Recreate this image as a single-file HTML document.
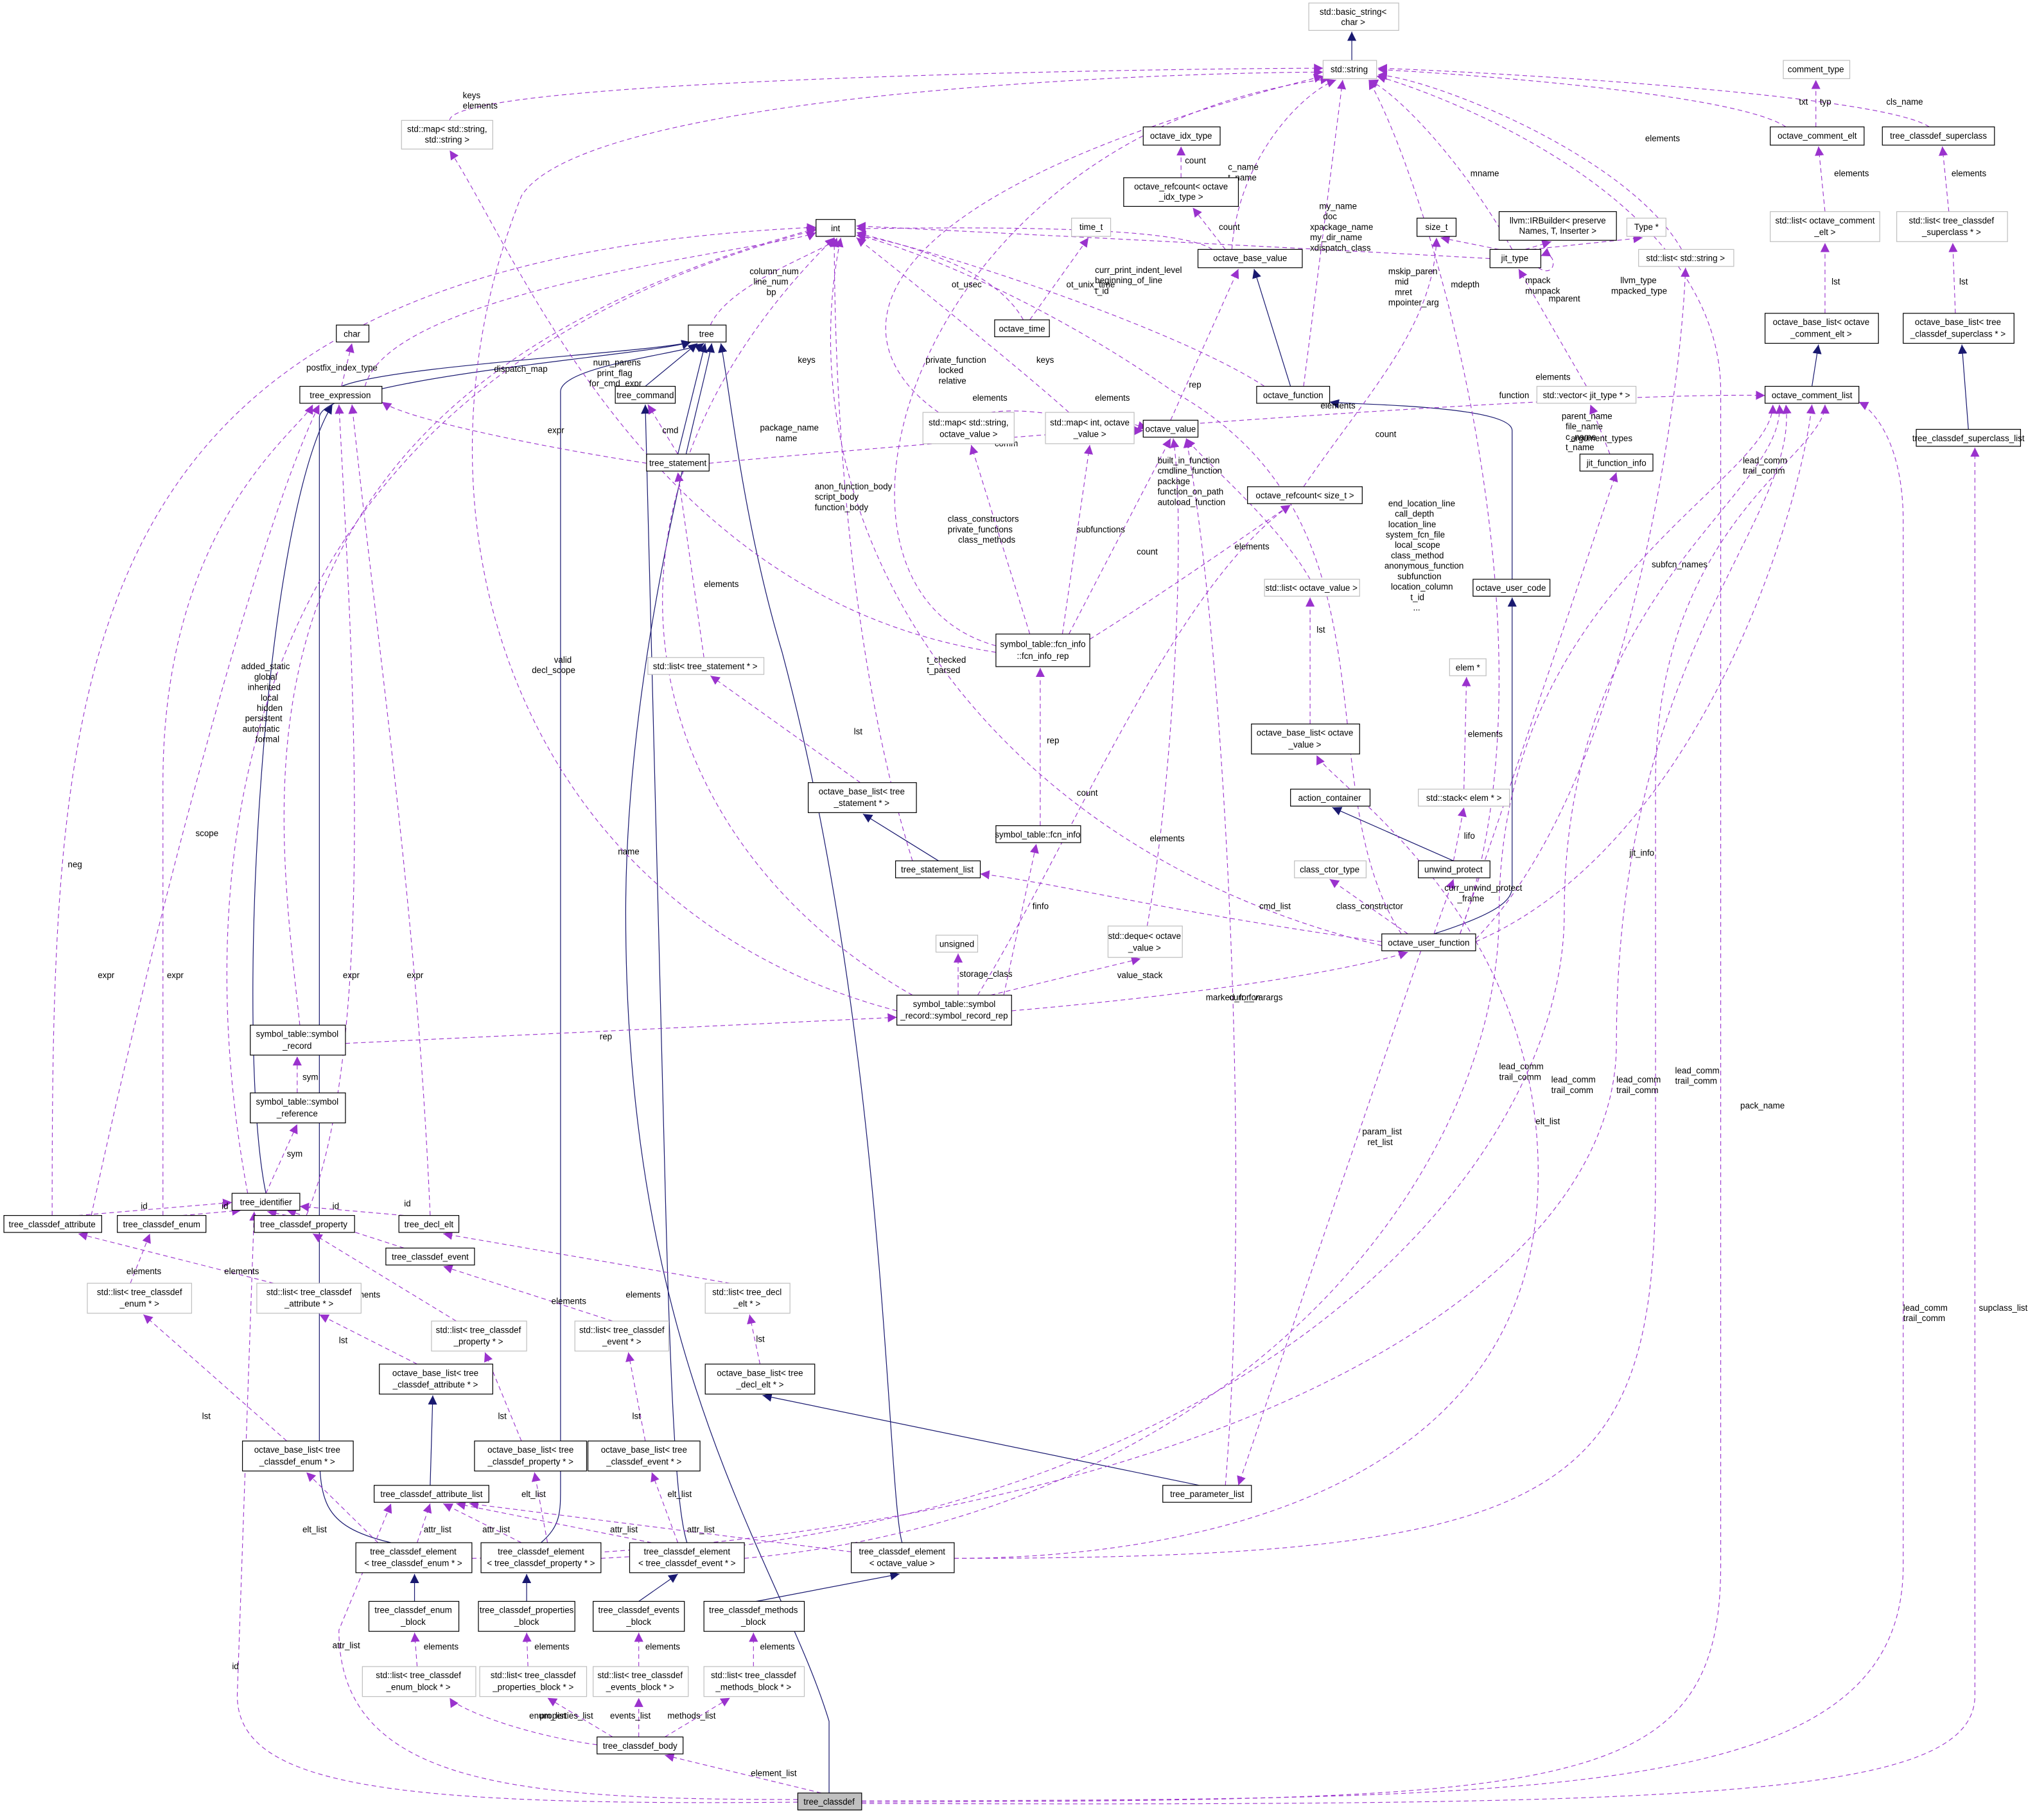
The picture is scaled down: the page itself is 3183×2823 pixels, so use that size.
<!DOCTYPE html>
<html><head><meta charset="utf-8"><style>
html,body{margin:0;padding:0;background:#fff}
svg{display:block}
text{font-family:"Liberation Sans",sans-serif;font-size:6.6px;fill:#000}
.n{fill:#fff;stroke:#000;stroke-width:0.6}
.g{fill:#fff;stroke:#bfbfbf;stroke-width:0.6}
.d{fill:none;stroke:#9a32cd;stroke-width:0.55;stroke-dasharray:3.5,2.5}
.s{fill:none;stroke:#191970;stroke-width:0.6}
.nt{text-anchor:middle}
</style></head><body>
<svg width="3183" height="2823" viewBox="0 0 1568 1390" xmlns="http://www.w3.org/2000/svg">
<defs>
<marker id="p" viewBox="0 0 10 10" refX="10" refY="5" markerWidth="7" markerHeight="7" markerUnits="userSpaceOnUse" orient="auto"><path d="M0,0 L10,5 L0,10z" fill="#9a32cd"/></marker>
<marker id="b" viewBox="0 0 10 10" refX="10" refY="5" markerWidth="7" markerHeight="7" markerUnits="userSpaceOnUse" orient="auto"><path d="M0,0 L10,5 L0,10z" fill="#191970"/></marker>
</defs>

<!-- solid inheritance edges -->
<g marker-end="url(#b)">
<path class="s" d="M1037,46 L1037,24"/>
<path class="s" d="M262,296 C300,280 500,270 530,262"/>
<path class="s" d="M495,296 L535,263"/>
<path class="s" d="M520,348 L541,263"/>
<path class="s" d="M204,915 C180,800 200,400 255,310"/>
<path class="s" d="M300,1183 C245,1170 245,1150 245,1100 L245,320 C245,290 500,272 530,262"/>
<path class="s" d="M415,1183 C430,1170 430,1160 430,1140 L430,300 C430,280 530,270 540,263"/>
<path class="s" d="M527,1183 C520,1160 515,1100 510,900 L495,310"/>
<path class="s" d="M692,1183 C680,1140 680,800 600,500 C570,400 560,300 553,263"/>
<path class="s" d="M636,1375 L636,1320 C600,1200 480,1050 480,700 C480,500 540,300 546,263"/>
<path class="s" d="M990,296 L962,206"/>
<path class="s" d="M1160,444 L1160,330 C1160,310 1030,310 1020,308"/>
<path class="s" d="M1100,716 C1150,700 1160,690 1160,680 L1160,458"/>
<path class="s" d="M1390,296 L1395,264"/>
<path class="s" d="M1510,329 L1505,264"/>
<path class="s" d="M720,660 L662,624"/>
<path class="s" d="M1115,660 L1022,619"/>
<path class="s" d="M920,1139 L585,1070"/>
<path class="s" d="M330,1139 L332,1070"/>
<path class="s" d="M318,1228 L318,1207"/>
<path class="s" d="M404,1228 L404,1207"/>
<path class="s" d="M490,1228 L520,1207"/>
<path class="s" d="M580,1228 L690,1207"/>
</g>

<!-- dashed edges -->
<g marker-end="url(#p)">
<path class="d" d="M1393,97 L1393,61"/>
<path class="d" d="M1370,97 C1330,70 1100,55 1057,53"/>
<path class="d" d="M1480,97 C1440,70 1100,53 1057,52"/>
<path class="d" d="M1400,162 L1395,112"/>
<path class="d" d="M1495,162 L1490,112"/>
<path class="d" d="M1400,240 L1400,186"/>
<path class="d" d="M1500,240 L1498,186"/>
<path class="d" d="M345,92 C345,60 900,52 1015,52"/>
<path class="d" d="M906,136 L906,112"/>
<path class="d" d="M940,191 L915,159"/>
<path class="d" d="M945,191 C950,120 1000,70 1025,61"/>
<path class="d" d="M785,245 C760,200 680,185 657,178"/>
<path class="d" d="M790,245 L835,182"/>
<path class="d" d="M545,249 C560,215 640,190 642,182"/>
<path class="d" d="M280,296 C300,220 600,190 626,178"/>
<path class="d" d="M262,296 L270,263"/>
<path class="d" d="M930,191 C900,170 700,175 657,175"/>
<path class="d" d="M970,296 C900,250 700,185 657,180"/>
<path class="d" d="M1150,191 L1105,182"/>
<path class="d" d="M1170,191 L1190,185"/>
<path class="d" d="M1175,191 L1260,182"/>
<path class="d" d="M1180,205 C1195,215 1195,190 1182,196"/>
<path class="d" d="M1160,191 C1120,120 1070,70 1050,61"/>
<path class="d" d="M1000,296 L1030,61"/>
<path class="d" d="M1290,191 C1250,120 1100,60 1057,57"/>
<path class="d" d="M1143,198 C1000,190 700,175 657,173"/>
<path class="d" d="M1217,296 L1165,206"/>
<path class="d" d="M1235,348 L1220,310"/>
<path class="d" d="M898,322 L950,206"/>
<path class="d" d="M760,316 C800,310 860,330 877,330"/>
<path class="d" d="M836,316 L880,328"/>
<path class="d" d="M820,316 C780,280 680,200 657,182"/>
<path class="d" d="M720,316 C640,260 650,150 1015,58"/>
<path class="d" d="M496,355 C400,340 310,320 293,308"/>
<path class="d" d="M520,348 L497,310"/>
<path class="d" d="M544,355 C700,340 1200,300 1354,303"/>
<path class="d" d="M790,486 L745,341"/>
<path class="d" d="M815,486 L836,341"/>
<path class="d" d="M820,486 L898,336"/>
<path class="d" d="M764,495 C600,450 700,100 1020,60"/>
<path class="d" d="M764,500 C500,460 400,200 345,115"/>
<path class="d" d="M836,490 C900,450 970,400 990,387"/>
<path class="d" d="M798,633 L798,512"/>
<path class="d" d="M540,504 L520,362"/>
<path class="d" d="M660,600 L545,518"/>
<path class="d" d="M700,660 C650,500 640,300 640,182"/>
<path class="d" d="M1005,444 C980,400 920,350 910,336"/>
<path class="d" d="M1005,555 L1005,458"/>
<path class="d" d="M1123,605 L1125,519"/>
<path class="d" d="M1115,660 L1123,619"/>
<path class="d" d="M1060,722 C900,700 800,675 752,670"/>
<path class="d" d="M1080,716 L1020,674"/>
<path class="d" d="M1100,716 L1115,674"/>
<path class="d" d="M1120,716 L1240,362"/>
<path class="d" d="M1132,720 C1250,600 1290,300 1293,205"/>
<path class="d" d="M1132,722 C1300,650 1380,400 1390,310"/>
<path class="d" d="M1120,716 C1200,500 1100,150 1050,61"/>
<path class="d" d="M1075,716 C1000,600 1080,400 900,300 C800,230 700,190 657,180"/>
<path class="d" d="M1090,729 L950,1139"/>
<path class="d" d="M1060,725 C750,650 600,400 645,182"/>
<path class="d" d="M1000,373 C1050,300 1100,250 1102,182"/>
<path class="d" d="M735,763 L735,731"/>
<path class="d" d="M760,763 L875,735"/>
<path class="d" d="M770,763 L795,647"/>
<path class="d" d="M776,775 C950,760 1050,740 1080,730"/>
<path class="d" d="M750,763 C820,650 900,450 990,387"/>
<path class="d" d="M688,775 C400,700 300,400 400,150 C450,70 900,55 1015,55"/>
<path class="d" d="M700,763 C500,650 420,400 640,182"/>
<path class="d" d="M880,710 C900,600 910,400 900,336"/>
<path class="d" d="M940,1139 C960,900 940,500 910,336"/>
<path class="d" d="M265,800 L688,780"/>
<path class="d" d="M230,786 C210,600 160,300 626,175"/>
<path class="d" d="M228,838 L228,810"/>
<path class="d" d="M204,915 L228,862"/>
<path class="d" d="M190,915 C150,700 150,300 626,176"/>
<path class="d" d="M40,932 C40,500 50,200 626,174"/>
<path class="d" d="M60,932 L178,922"/>
<path class="d" d="M70,932 C120,700 200,400 245,310"/>
<path class="d" d="M140,932 L185,928"/>
<path class="d" d="M125,932 L125,600 C125,400 230,330 240,310"/>
<path class="d" d="M220,932 L205,929"/>
<path class="d" d="M235,932 C290,800 270,500 260,310"/>
<path class="d" d="M310,932 L230,925"/>
<path class="d" d="M330,932 C320,700 290,500 270,310"/>
<path class="d" d="M310,957 L220,928"/>
<path class="d" d="M100,984 L115,946"/>
<path class="d" d="M210,984 L60,946"/>
<path class="d" d="M350,1013 L240,946"/>
<path class="d" d="M560,984 L340,946"/>
<path class="d" d="M470,1013 L340,971"/>
<path class="d" d="M320,1046 L245,1008"/>
<path class="d" d="M583,1046 L575,1008"/>
<path class="d" d="M220,1105 L110,1008"/>
<path class="d" d="M400,1105 L372,1037"/>
<path class="d" d="M495,1105 L482,1037"/>
<path class="d" d="M290,1183 L235,1129"/>
<path class="d" d="M320,1183 L330,1153"/>
<path class="d" d="M420,1183 L410,1129"/>
<path class="d" d="M400,1183 L340,1153"/>
<path class="d" d="M520,1183 L500,1129"/>
<path class="d" d="M500,1183 L350,1153"/>
<path class="d" d="M653,1190 L360,1153"/>
<path class="d" d="M732,1195 C900,1195 1180,1150 1180,900 C1180,700 1020,600 1010,579"/>
<path class="d" d="M732,1195 C1200,1195 1270,1150 1270,900 L1270,600 C1270,400 1400,350 1400,310"/>
<path class="d" d="M362,1195 C900,1180 1240,1000 1240,800 C1240,500 1380,400 1370,310"/>
<path class="d" d="M461,1195 C950,1170 1200,900 1200,700 C1200,450 1370,380 1365,310"/>
<path class="d" d="M571,1195 C950,1160 1150,900 1150,700 C1150,450 1360,370 1360,310"/>
<path class="d" d="M320,1278 L318,1252"/>
<path class="d" d="M405,1278 L404,1252"/>
<path class="d" d="M490,1278 L490,1252"/>
<path class="d" d="M578,1278 L578,1252"/>
<path class="d" d="M458,1338 C400,1330 350,1310 345,1302"/>
<path class="d" d="M470,1332 L420,1302"/>
<path class="d" d="M490,1332 L490,1302"/>
<path class="d" d="M510,1332 L560,1302"/>
<path class="d" d="M630,1375 L510,1346"/>
<path class="d" d="M612,1382 C300,1385 182,1370 182,1300 L195,929"/>
<path class="d" d="M612,1380 C400,1380 260,1370 260,1250 L300,1153"/>
<path class="d" d="M661,1381 C1200,1380 1460,1380 1460,1200 L1460,400 C1460,330 1430,310 1426,308"/>
<path class="d" d="M661,1382 C1200,1380 1320,1380 1320,1200 L1320,300 C1320,150 1100,70 1056,58"/>
<path class="d" d="M661,1383 C1300,1385 1515,1380 1515,1300 L1515,343"/>
</g>

<!-- edge labels -->
<g>
<text x="1380" y="80">txt</text><text x="1396" y="80">typ</text>
<text x="1447" y="80">cls_name</text>
<text x="1407" y="135">elements</text><text x="1497" y="135">elements</text>
<text x="1405" y="218">lst</text><text x="1503" y="218">lst</text>
<text x="355" y="75">keys</text><text x="355" y="83">elements</text>
<text x="909" y="125">count</text><text x="935" y="176">count</text>
<text x="942" y="130">c_name</text><text x="942" y="138">t_name</text>
<text x="730" y="220">ot_usec</text><text x="818" y="220">ot_unix_time</text>
<text x="575" y="210">column_num</text><text x="578" y="218">line_num</text><text x="588" y="226">bp</text>
<text x="455" y="280">num_parens</text><text x="458" y="288">print_flag</text><text x="452" y="296">for_cmd_expr</text>
<text x="235" y="284">postfix_index_type</text>
<text x="840" y="209">curr_print_indent_level</text><text x="840" y="217">beginning_of_line</text><text x="840" y="225">t_id</text>
<text x="710" y="278">private_function</text><text x="720" y="286">locked</text><text x="720" y="294">relative</text>
<text x="1113" y="220">mdepth</text>
<text x="1170" y="217">mpack</text><text x="1170" y="225">munpack</text>
<text x="1243" y="217">llvm_type</text><text x="1236" y="225">mpacked_type</text>
<text x="1188" y="231">mparent</text>
<text x="1128" y="135">mname</text>
<text x="1012" y="160">my_name</text><text x="1015" y="168">doc</text><text x="1005" y="176">xpackage_name</text><text x="1005" y="184">my_dir_name</text><text x="1005" y="192">xdispatch_class</text>
<text x="1262" y="108">elements</text>
<text x="1065" y="210">mskip_paren</text><text x="1070" y="218">mid</text><text x="1070" y="226">mret</text><text x="1065" y="234">mpointer_arg</text>
<text x="1178" y="291">elements</text>
<text x="1150" y="305">function</text>
<text x="1205" y="338">argument_types</text>
<text x="912" y="297">rep</text>
<text x="746" y="307">elements</text><text x="840" y="307">elements</text>
<text x="795" y="278">keys</text><text x="612" y="278">keys</text>
<text x="420" y="332">expr</text><text x="508" y="332">cmd</text><text x="763" y="342">comm</text>
<text x="727" y="400">class_constructors</text><text x="727" y="408">private_functions</text><text x="735" y="416">class_methods</text>
<text x="826" y="408">subfunctions</text>
<text x="888" y="355">built_in_function</text><text x="888" y="363">cmdline_function</text><text x="888" y="371">package</text><text x="888" y="379">function_on_path</text><text x="888" y="387">autoload_function</text>
<text x="583" y="330">package_name</text><text x="595" y="338">name</text>
<text x="379" y="285">dispatch_map</text>
<text x="872" y="425">count</text>
<text x="803" y="570">rep</text>
<text x="540" y="450">elements</text><text x="655" y="563">lst</text>
<text x="625" y="375">anon_function_body</text><text x="625" y="383">script_body</text><text x="625" y="391">function_body</text>
<text x="947" y="421">elements</text>
<text x="1010" y="485">lst</text><text x="1126" y="565">elements</text><text x="1123" y="643">lifo</text>
<text x="966" y="697">cmd_list</text><text x="1025" y="697">class_constructor</text>
<text x="1108" y="683">curr_unwind_protect</text><text x="1118" y="691">_frame</text>
<text x="1250" y="656">jit_info</text>
<text x="1267" y="435">subfcn_names</text>
<text x="1337" y="355">lead_comm</text><text x="1337" y="363">trail_comm</text>
<text x="1198" y="321">parent_name</text><text x="1201" y="329">file_name</text><text x="1201" y="337">c_name</text><text x="1201" y="345">t_name</text>
<text x="1065" y="388">end_location_line</text><text x="1070" y="396">call_depth</text><text x="1065" y="404">location_line</text><text x="1063" y="412">system_fcn_file</text><text x="1070" y="420">local_scope</text><text x="1067" y="428">class_method</text><text x="1062" y="436">anonymous_function</text><text x="1072" y="444">subfunction</text><text x="1067" y="452">location_column</text><text x="1082" y="460">t_id</text><text x="1084" y="468">...</text>
<text x="1013" y="313">elements</text>
<text x="1010" y="452">count</text>
<text x="1045" y="870">param_list</text><text x="1049" y="878">ret_list</text>
<text x="711" y="508">t_checked</text><text x="711" y="516">t_parsed</text>
<text x="1055" y="335">count</text>
<text x="736" y="749">storage_class</text><text x="857" y="750">value_stack</text>
<text x="792" y="697">finfo</text><text x="943" y="767">curr_fcn</text>
<text x="826" y="610">count</text><text x="474" y="655">name</text>
<text x="425" y="508">valid</text><text x="408" y="516">decl_scope</text>
<text x="882" y="645">elements</text>
<text x="925" y="767">marked_for_varargs</text>
<text x="460" y="797">rep</text>
<text x="185" y="513">added_static</text><text x="195" y="521">global</text><text x="190" y="529">inherited</text><text x="200" y="537">local</text><text x="197" y="545">hidden</text><text x="188" y="553">persistent</text><text x="186" y="561">automatic</text><text x="196" y="569">formal</text>
<text x="232" y="828">sym</text><text x="220" y="887">sym</text>
<text x="150" y="641">scope</text><text x="52" y="665">neg</text>
<text x="108" y="927">id</text><text x="170" y="927">id</text><text x="202" y="927">id</text><text x="255" y="927">id</text><text x="310" y="925">id</text>
<text x="75" y="750">expr</text><text x="128" y="750">expr</text><text x="263" y="750">expr</text><text x="312" y="750">expr</text>
<text x="97" y="977">elements</text><text x="172" y="977">elements</text><text x="265" y="995">elements</text><text x="480" y="995">elements</text><text x="423" y="1000">elements</text>
<text x="260" y="1030">lst</text><text x="580" y="1029">lst</text><text x="155" y="1088">lst</text><text x="382" y="1088">lst</text><text x="485" y="1088">lst</text>
<text x="232" y="1175">elt_list</text><text x="325" y="1175">attr_list</text><text x="400" y="1148">elt_list</text><text x="370" y="1175">attr_list</text><text x="512" y="1148">elt_list</text><text x="468" y="1175">attr_list</text><text x="527" y="1175">attr_list</text>
<text x="1150" y="820">lead_comm</text><text x="1150" y="828">trail_comm</text>
<text x="1190" y="830">lead_comm</text><text x="1190" y="838">trail_comm</text>
<text x="1240" y="830">lead_comm</text><text x="1240" y="838">trail_comm</text>
<text x="1285" y="823">lead_comm</text><text x="1285" y="831">trail_comm</text>
<text x="1178" y="862">elt_list</text>
<text x="1460" y="1005">lead_comm</text><text x="1460" y="1013">trail_comm</text>
<text x="1335" y="850">pack_name</text><text x="1518" y="1005">supclass_list</text>
<text x="325" y="1265">elements</text><text x="410" y="1265">elements</text><text x="495" y="1265">elements</text><text x="583" y="1265">elements</text>
<text x="406" y="1318">enum_list</text><text x="414" y="1318">properties_list</text><text x="468" y="1318">events_list</text><text x="512" y="1318">methods_list</text>
<text x="576" y="1362">element_list</text>
<text x="178" y="1280">id</text><text x="255" y="1264">attr_list</text>
</g>

<!-- nodes -->
<g>
<rect class="g" x="1004" y="2" width="69" height="21"/><text class="nt" x="1038" y="11">std::basic_string&lt;</text><text class="nt" x="1038" y="19">char &gt;</text>
<rect class="g" x="1015" y="46" width="41" height="14"/><text class="nt" x="1035" y="55">std::string</text>
<rect class="g" x="1368" y="46" width="51" height="14"/><text class="nt" x="1393" y="55">comment_type</text>
<rect class="n" x="1358" y="97" width="72" height="14"/><text class="nt" x="1394" y="106">octave_comment_elt</text>
<rect class="n" x="1444" y="97" width="86" height="14"/><text class="nt" x="1487" y="106">tree_classdef_superclass</text>
<rect class="g" x="308" y="92" width="70" height="22"/><text class="nt" x="343" y="101">std::map&lt; std::string,</text><text class="nt" x="343" y="109">std::string &gt;</text>
<rect class="n" x="877" y="97" width="59" height="14"/><text class="nt" x="906" y="106">octave_idx_type</text>
<rect class="n" x="862" y="136" width="88" height="22"/><text class="nt" x="906" y="145">octave_refcount&lt; octave</text><text class="nt" x="906" y="153">_idx_type &gt;</text>
<rect class="g" x="822" y="167" width="30" height="14"/><text class="nt" x="837" y="176">time_t</text>
<rect class="n" x="626" y="168" width="30" height="13"/><text class="nt" x="641" y="177">int</text>
<rect class="n" x="1087" y="167" width="30" height="14"/><text class="nt" x="1102" y="176">size_t</text>
<rect class="n" x="1150" y="162" width="90" height="22"/><text class="nt" x="1195" y="171">llvm::IRBuilder&lt; preserve</text><text class="nt" x="1195" y="179">Names, T, Inserter &gt;</text>
<rect class="g" x="1248" y="167" width="30" height="14"/><text class="nt" x="1263" y="176">Type *</text>
<rect class="g" x="1358" y="162" width="84" height="23"/><text class="nt" x="1400" y="171">std::list&lt; octave_comment</text><text class="nt" x="1400" y="180">_elt &gt;</text>
<rect class="g" x="1455" y="162" width="85" height="23"/><text class="nt" x="1497" y="171">std::list&lt; tree_classdef</text><text class="nt" x="1497" y="180">_superclass * &gt;</text>
<rect class="g" x="1257" y="191" width="73" height="13"/><text class="nt" x="1293" y="200">std::list&lt; std::string &gt;</text>
<rect class="n" x="919" y="191" width="80" height="14"/><text class="nt" x="959" y="200">octave_base_value</text>
<rect class="n" x="1143" y="191" width="39" height="14"/><text class="nt" x="1162" y="200">jit_type</text>
<rect class="n" x="1354" y="240" width="87" height="23"/><text class="nt" x="1397" y="249">octave_base_list&lt; octave</text><text class="nt" x="1397" y="258">_comment_elt &gt;</text>
<rect class="n" x="1460" y="240" width="85" height="23"/><text class="nt" x="1502" y="249">octave_base_list&lt; tree</text><text class="nt" x="1502" y="258">_classdef_superclass * &gt;</text>
<rect class="n" x="258" y="249" width="25" height="13"/><text class="nt" x="270" y="258">char</text>
<rect class="n" x="528" y="249" width="29" height="13"/><text class="nt" x="542" y="258">tree</text>
<rect class="n" x="230" y="296" width="63" height="13"/><text class="nt" x="261" y="305">tree_expression</text>
<rect class="n" x="472" y="296" width="46" height="13"/><text class="nt" x="495" y="305">tree_command</text>
<rect class="n" x="763" y="245" width="42" height="13"/><text class="nt" x="784" y="254">octave_time</text>
<rect class="n" x="964" y="296" width="56" height="13"/><text class="nt" x="992" y="305">octave_function</text>
<rect class="g" x="1179" y="296" width="76" height="13"/><text class="nt" x="1217" y="305">std::vector&lt; jit_type * &gt;</text>
<rect class="n" x="1354" y="296" width="72" height="13"/><text class="nt" x="1390" y="305">octave_comment_list</text>
<rect class="n" x="1470" y="329" width="80" height="13"/><text class="nt" x="1510" y="338">tree_classdef_superclass_list</text>
<rect class="n" x="877" y="322" width="42" height="13"/><text class="nt" x="898" y="331">octave_value</text>
<rect class="g" x="708" y="316" width="70" height="24"/><text class="nt" x="743" y="326">std::map&lt; std::string,</text><text class="nt" x="743" y="335">octave_value &gt;</text>
<rect class="g" x="802" y="316" width="68" height="24"/><text class="nt" x="836" y="326">std::map&lt; int, octave</text><text class="nt" x="836" y="335">_value &gt;</text>
<rect class="n" x="496" y="348" width="48" height="13"/><text class="nt" x="520" y="357">tree_statement</text>
<rect class="n" x="1212" y="348" width="56" height="13"/><text class="nt" x="1240" y="357">jit_function_info</text>
<rect class="n" x="957" y="373" width="88" height="13"/><text class="nt" x="1001" y="382">octave_refcount&lt; size_t &gt;</text>
<rect class="g" x="970" y="444" width="73" height="13"/><text class="nt" x="1006" y="453">std::list&lt; octave_value &gt;</text>
<rect class="n" x="1130" y="444" width="59" height="13"/><text class="nt" x="1159" y="453">octave_user_code</text>
<rect class="n" x="764" y="486" width="72" height="25"/><text class="nt" x="800" y="496">symbol_table::fcn_info</text><text class="nt" x="800" y="505">::fcn_info_rep</text>
<rect class="g" x="497" y="504" width="89" height="13"/><text class="nt" x="541" y="513">std::list&lt; tree_statement * &gt;</text>
<rect class="g" x="1112" y="505" width="28" height="13"/><text class="nt" x="1126" y="514">elem *</text>
<rect class="n" x="960" y="555" width="83" height="23"/><text class="nt" x="1001" y="564">octave_base_list&lt; octave</text><text class="nt" x="1001" y="573">_value &gt;</text>
<rect class="n" x="620" y="600" width="83" height="23"/><text class="nt" x="661" y="609">octave_base_list&lt; tree</text><text class="nt" x="661" y="618">_statement * &gt;</text>
<rect class="n" x="990" y="605" width="61" height="13"/><text class="nt" x="1020" y="614">action_container</text>
<rect class="g" x="1088" y="605" width="70" height="13"/><text class="nt" x="1123" y="614">std::stack&lt; elem * &gt;</text>
<rect class="n" x="764" y="633" width="65" height="13"/><text class="nt" x="796" y="642">symbol_table::fcn_info</text>
<rect class="n" x="687" y="660" width="65" height="13"/><text class="nt" x="719" y="669">tree_statement_list</text>
<rect class="n" x="1088" y="660" width="55" height="13"/><text class="nt" x="1115" y="669">unwind_protect</text>
<rect class="g" x="993" y="660" width="55" height="13"/><text class="nt" x="1020" y="669">class_ctor_type</text>
<rect class="g" x="718" y="717" width="32" height="13"/><text class="nt" x="734" y="726">unsigned</text>
<rect class="g" x="850" y="710" width="57" height="24"/><text class="nt" x="878" y="720">std::deque&lt; octave</text><text class="nt" x="878" y="729">_value &gt;</text>
<rect class="n" x="1060" y="716" width="72" height="13"/><text class="nt" x="1096" y="725">octave_user_function</text>
<rect class="n" x="688" y="763" width="88" height="23"/><text class="nt" x="732" y="772">symbol_table::symbol</text><text class="nt" x="732" y="781">_record::symbol_record_rep</text>
<rect class="n" x="192" y="786" width="73" height="23"/><text class="nt" x="228" y="795">symbol_table::symbol</text><text class="nt" x="228" y="804">_record</text>
<rect class="n" x="192" y="838" width="73" height="23"/><text class="nt" x="228" y="847">symbol_table::symbol</text><text class="nt" x="228" y="856">_reference</text>
<rect class="n" x="178" y="915" width="52" height="13"/><text class="nt" x="204" y="924">tree_identifier</text>
<rect class="n" x="3" y="932" width="75" height="13"/><text class="nt" x="40" y="941">tree_classdef_attribute</text>
<rect class="n" x="90" y="932" width="68" height="13"/><text class="nt" x="124" y="941">tree_classdef_enum</text>
<rect class="n" x="195" y="932" width="77" height="13"/><text class="nt" x="233" y="941">tree_classdef_property</text>
<rect class="n" x="306" y="932" width="46" height="13"/><text class="nt" x="329" y="941">tree_decl_elt</text>
<rect class="n" x="296" y="957" width="68" height="13"/><text class="nt" x="330" y="966">tree_classdef_event</text>
<rect class="g" x="67" y="984" width="80" height="23"/><text class="nt" x="107" y="993">std::list&lt; tree_classdef</text><text class="nt" x="107" y="1002">_enum * &gt;</text>
<rect class="g" x="197" y="984" width="80" height="23"/><text class="nt" x="237" y="993">std::list&lt; tree_classdef</text><text class="nt" x="237" y="1002">_attribute * &gt;</text>
<rect class="g" x="331" y="1013" width="73" height="23"/><text class="nt" x="367" y="1022">std::list&lt; tree_classdef</text><text class="nt" x="367" y="1031">_property * &gt;</text>
<rect class="g" x="541" y="984" width="65" height="23"/><text class="nt" x="573" y="993">std::list&lt; tree_decl</text><text class="nt" x="573" y="1002">_elt * &gt;</text>
<rect class="g" x="441" y="1013" width="72" height="23"/><text class="nt" x="477" y="1022">std::list&lt; tree_classdef</text><text class="nt" x="477" y="1031">_event * &gt;</text>
<rect class="n" x="291" y="1046" width="87" height="23"/><text class="nt" x="334" y="1055">octave_base_list&lt; tree</text><text class="nt" x="334" y="1064">_classdef_attribute * &gt;</text>
<rect class="n" x="541" y="1046" width="84" height="23"/><text class="nt" x="583" y="1055">octave_base_list&lt; tree</text><text class="nt" x="583" y="1064">_decl_elt * &gt;</text>
<rect class="n" x="186" y="1105" width="85" height="23"/><text class="nt" x="228" y="1114">octave_base_list&lt; tree</text><text class="nt" x="228" y="1123">_classdef_enum * &gt;</text>
<rect class="n" x="364" y="1105" width="86" height="23"/><text class="nt" x="407" y="1114">octave_base_list&lt; tree</text><text class="nt" x="407" y="1123">_classdef_property * &gt;</text>
<rect class="n" x="451" y="1105" width="86" height="23"/><text class="nt" x="494" y="1114">octave_base_list&lt; tree</text><text class="nt" x="494" y="1123">_classdef_event * &gt;</text>
<rect class="n" x="892" y="1139" width="68" height="13"/><text class="nt" x="926" y="1148">tree_parameter_list</text>
<rect class="n" x="287" y="1139" width="88" height="13"/><text class="nt" x="331" y="1148">tree_classdef_attribute_list</text>
<rect class="n" x="273" y="1183" width="89" height="23"/><text class="nt" x="317" y="1192">tree_classdef_element</text><text class="nt" x="317" y="1201">&lt; tree_classdef_enum * &gt;</text>
<rect class="n" x="369" y="1183" width="92" height="23"/><text class="nt" x="415" y="1192">tree_classdef_element</text><text class="nt" x="415" y="1201">&lt; tree_classdef_property * &gt;</text>
<rect class="n" x="483" y="1183" width="88" height="23"/><text class="nt" x="527" y="1192">tree_classdef_element</text><text class="nt" x="527" y="1201">&lt; tree_classdef_event * &gt;</text>
<rect class="n" x="653" y="1183" width="79" height="23"/><text class="nt" x="692" y="1192">tree_classdef_element</text><text class="nt" x="692" y="1201">&lt; octave_value &gt;</text>
<rect class="n" x="283" y="1228" width="69" height="23"/><text class="nt" x="317" y="1237">tree_classdef_enum</text><text class="nt" x="317" y="1246">_block</text>
<rect class="n" x="367" y="1228" width="74" height="23"/><text class="nt" x="404" y="1237">tree_classdef_properties</text><text class="nt" x="404" y="1246">_block</text>
<rect class="n" x="455" y="1228" width="70" height="23"/><text class="nt" x="490" y="1237">tree_classdef_events</text><text class="nt" x="490" y="1246">_block</text>
<rect class="n" x="540" y="1228" width="77" height="23"/><text class="nt" x="578" y="1237">tree_classdef_methods</text><text class="nt" x="578" y="1246">_block</text>
<rect class="g" x="278" y="1278" width="87" height="23"/><text class="nt" x="321" y="1287">std::list&lt; tree_classdef</text><text class="nt" x="321" y="1296">_enum_block * &gt;</text>
<rect class="g" x="368" y="1278" width="82" height="23"/><text class="nt" x="409" y="1287">std::list&lt; tree_classdef</text><text class="nt" x="409" y="1296">_properties_block * &gt;</text>
<rect class="g" x="455" y="1278" width="73" height="23"/><text class="nt" x="491" y="1287">std::list&lt; tree_classdef</text><text class="nt" x="491" y="1296">_events_block * &gt;</text>
<rect class="g" x="540" y="1278" width="77" height="23"/><text class="nt" x="578" y="1287">std::list&lt; tree_classdef</text><text class="nt" x="578" y="1296">_methods_block * &gt;</text>
<rect class="n" x="458" y="1332" width="66" height="13"/><text class="nt" x="491" y="1341">tree_classdef_body</text>
<rect x="612" y="1375" width="49" height="13" fill="#bfbfbf" stroke="#000" stroke-width="0.6"/><text class="nt" x="636" y="1384">tree_classdef</text>
</g>
</svg>
</body></html>
